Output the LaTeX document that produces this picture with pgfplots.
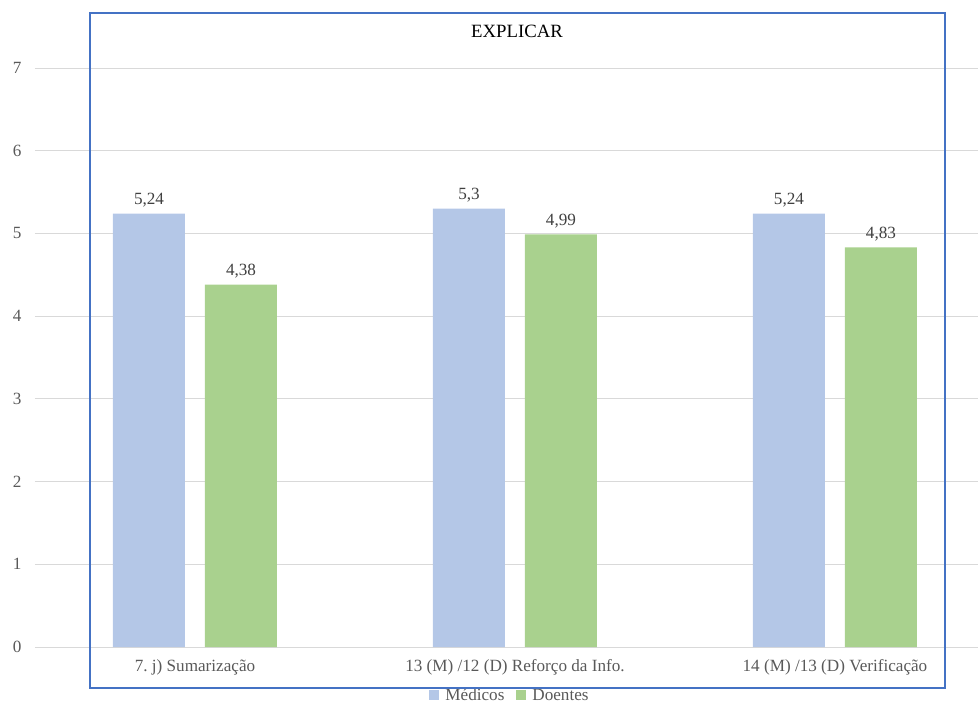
\documentclass[border=0pt]{standalone}
\usepackage{pgfplots}
\pgfplotsset{compat=1.18}
\usepackage{fontspec}
\setmainfont{Liberation Serif}
\frenchspacing
\definecolor{medc}{HTML}{B4C7E7}
\definecolor{doec}{HTML}{A9D18E}
\definecolor{gridc}{HTML}{D9D9D9}
\definecolor{txtc}{HTML}{595959}
\definecolor{boxc}{HTML}{4472C4}
\begin{document}
\begin{tikzpicture}
\useasboundingbox (-35bp,-59bp) rectangle (943bp,647bp);
\begin{axis}[
  scale only axis,
  width=943bp, height=579bp,
  xmin=-0.5, xmax=2.447,
  ymin=0, ymax=7,
  ytick={0,1,...,7},
  xtick={0,1,2},
  xticklabels={7.\ j) Sumarização, 13 (M) /12 (D) Reforço da Info., 14 (M) /13 (D) Verificação},
  ymajorgrids,
  grid style={gridc, line width=0.8bp},
  axis line style={draw=none},
  major tick length=0,
  ybar=20bp,
  bar width=72bp,
  every tick label/.append style={font=\fontsize{17.2}{20}\selectfont, text=txtc},
  yticklabel style={xshift=-10bp},
  xticklabel style={yshift=-9bp},
  /pgf/number format/assume math mode=true,
  nodes near coords,
  nodes near coords style={font=\fontsize{17.2}{20}\selectfont, text=black!75, yshift=3bp, /pgf/number format/.cd, use comma, fixed, precision=2},
  legend style={at={(0.5037,-0.0835)}, anchor=center, draw=none, legend columns=2,
    font=\fontsize{17.2}{20}\selectfont, text=txtc, fill=none,
    /tikz/every even column/.append style={column sep=10bp}},
  legend image code/.code={\fill[#1] (-5bp,-5bp) rectangle (5bp,5bp); \path (9bp,0bp);},
]
\addplot[fill=medc, draw=none] coordinates {(0,5.24) (1,5.3) (2,5.24)};
\addplot[fill=doec, draw=none] coordinates {(0,4.38) (1,4.99) (2,4.83)};
\legend{Médicos, Doentes}
\end{axis}
\draw[boxc, line width=1.5bp] (55bp,-41bp) rectangle (910bp,634bp);
\node[font=\fontsize{18.8}{22}\selectfont] at (482bp,616bp) {EXPLICAR};
\end{tikzpicture}
\end{document}
